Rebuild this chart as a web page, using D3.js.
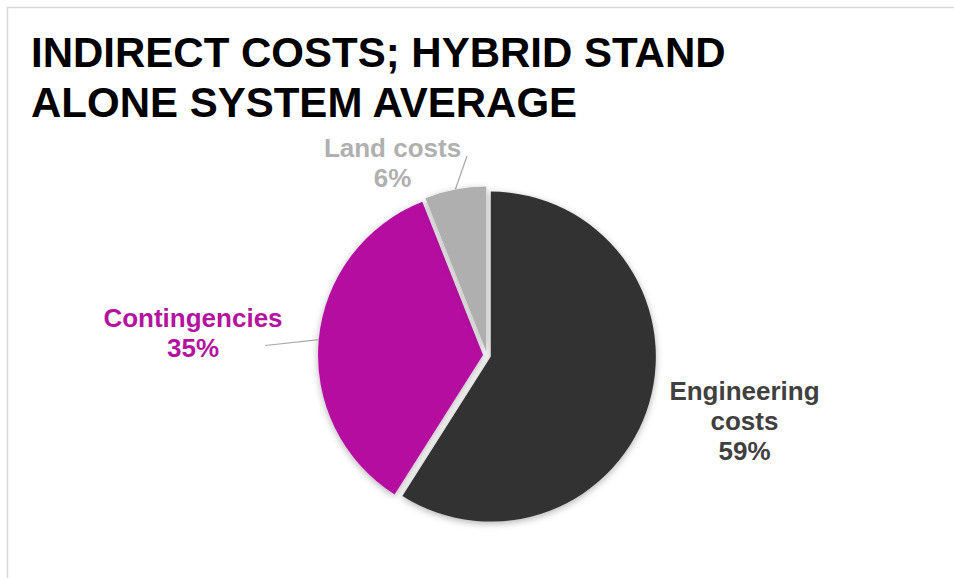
<!DOCTYPE html>
<html>
<head>
<meta charset="utf-8">
<script src="https://cdn.jsdelivr.net/npm/d3@7"></script>
<style>
  html, body { margin: 0; padding: 0; background: #fff; }
  svg { display: block; font-family: "Liberation Sans", Arial, sans-serif; }
</style>
</head>
<body>
<svg id="chart" width="954" height="578"></svg>
<script>
// Indirect cost shares, hybrid stand-alone system average
const categories = ["Engineering costs", "Contingencies", "Land costs"];
const shares = [59, 35, 6];
const labelLines = [["Engineering", "costs"], ["Contingencies"], ["Land costs"]];
const sliceColors = ["#333333", "#B40FA0", "#AFAFAF"];
const labelColors = ["#404040", "#B4139F", "#B0B0B0"];
const titleLines = ["INDIRECT COSTS; HYBRID STAND", "ALONE SYSTEM AVERAGE"];

const W = 954, H = 578;
const cx = 487, cy = 355.5, R = 165, explode = 4;

const svg = d3.select("#chart");

// panel frame (top and left edges visible)
svg.append("rect")
  .attr("x", 7.5).attr("y", 7.5)
  .attr("width", W + 20).attr("height", H + 20)
  .attr("fill", "#fff")
  .attr("stroke", "#D9D9D9").attr("stroke-width", 1.5);

const defs = svg.append("defs");
const f = defs.append("filter").attr("id", "shadow")
  .attr("x", "-20%").attr("y", "-20%").attr("width", "140%").attr("height", "140%");
f.append("feDropShadow")
  .attr("dx", 0).attr("dy", 2).attr("stdDeviation", 3.5)
  .attr("flood-color", "#000").attr("flood-opacity", 0.3);

// title
svg.append("g").selectAll("text").data(titleLines).join("text")
  .attr("x", 31)
  .attr("y", (d, i) => 67 + i * 50)
  .attr("font-size", 42)
  .attr("font-weight", "bold")
  .attr("fill", "#000")
  .text(d => d);

const data = categories.map((c, i) => ({ name: c, value: shares[i], i }));
const pie = d3.pie().value(d => d.value).sort(null).startAngle(0).endAngle(2 * Math.PI);
const arcs = pie(data);
const arc = d3.arc().innerRadius(0).outerRadius(R);

const mid = a => (a.startAngle + a.endAngle) / 2;
const polar = (ang, r) => [cx + Math.sin(ang) * r, cy - Math.cos(ang) * r];

const g = svg.append("g");
g.selectAll("path").data(arcs).join("path")
  .attr("d", arc)
  .attr("transform", d => {
    const m = mid(d);
    return `translate(${cx + Math.sin(m) * explode},${cy - Math.cos(m) * explode})`;
  })
  .attr("fill", d => sliceColors[d.data.i])
  .attr("filter", "url(#shadow)");

// label anchor positions (centre x, first baseline)
const labelPos = [[744.5, 400], [193, 327], [392.5, 157]];
const lineGap = 30;

const labels = svg.append("g");
arcs.forEach(a => {
  const i = a.data.i;
  const lines = labelLines[i].concat([d3.format(".0f")(a.data.value) + "%"]);
  labels.append("g").selectAll("text").data(lines).join("text")
    .attr("x", labelPos[i][0])
    .attr("y", (d, k) => labelPos[i][1] + k * lineGap)
    .attr("text-anchor", "middle")
    .attr("font-size", 26)
    .attr("font-weight", "bold")
    .attr("fill", labelColors[i])
    .text(d => d);
});

// leader lines from the slice edge to the label
const leader = d3.line();
const contA = arcs[1], landA = arcs[2];
const contEnd = polar(mid(contA), R + explode);
svg.append("path")
  .attr("d", leader([[265, 345.5], [279, 344], contEnd]))
  .attr("fill", "none").attr("stroke", "#A6A6A6").attr("stroke-width", 1.2);
const landEnd = polar(mid(landA), R + explode);
svg.append("path")
  .attr("d", leader([[467, 156], landEnd]))
  .attr("fill", "none").attr("stroke", "#A6A6A6").attr("stroke-width", 1.2);
</script>
</body>
</html>
